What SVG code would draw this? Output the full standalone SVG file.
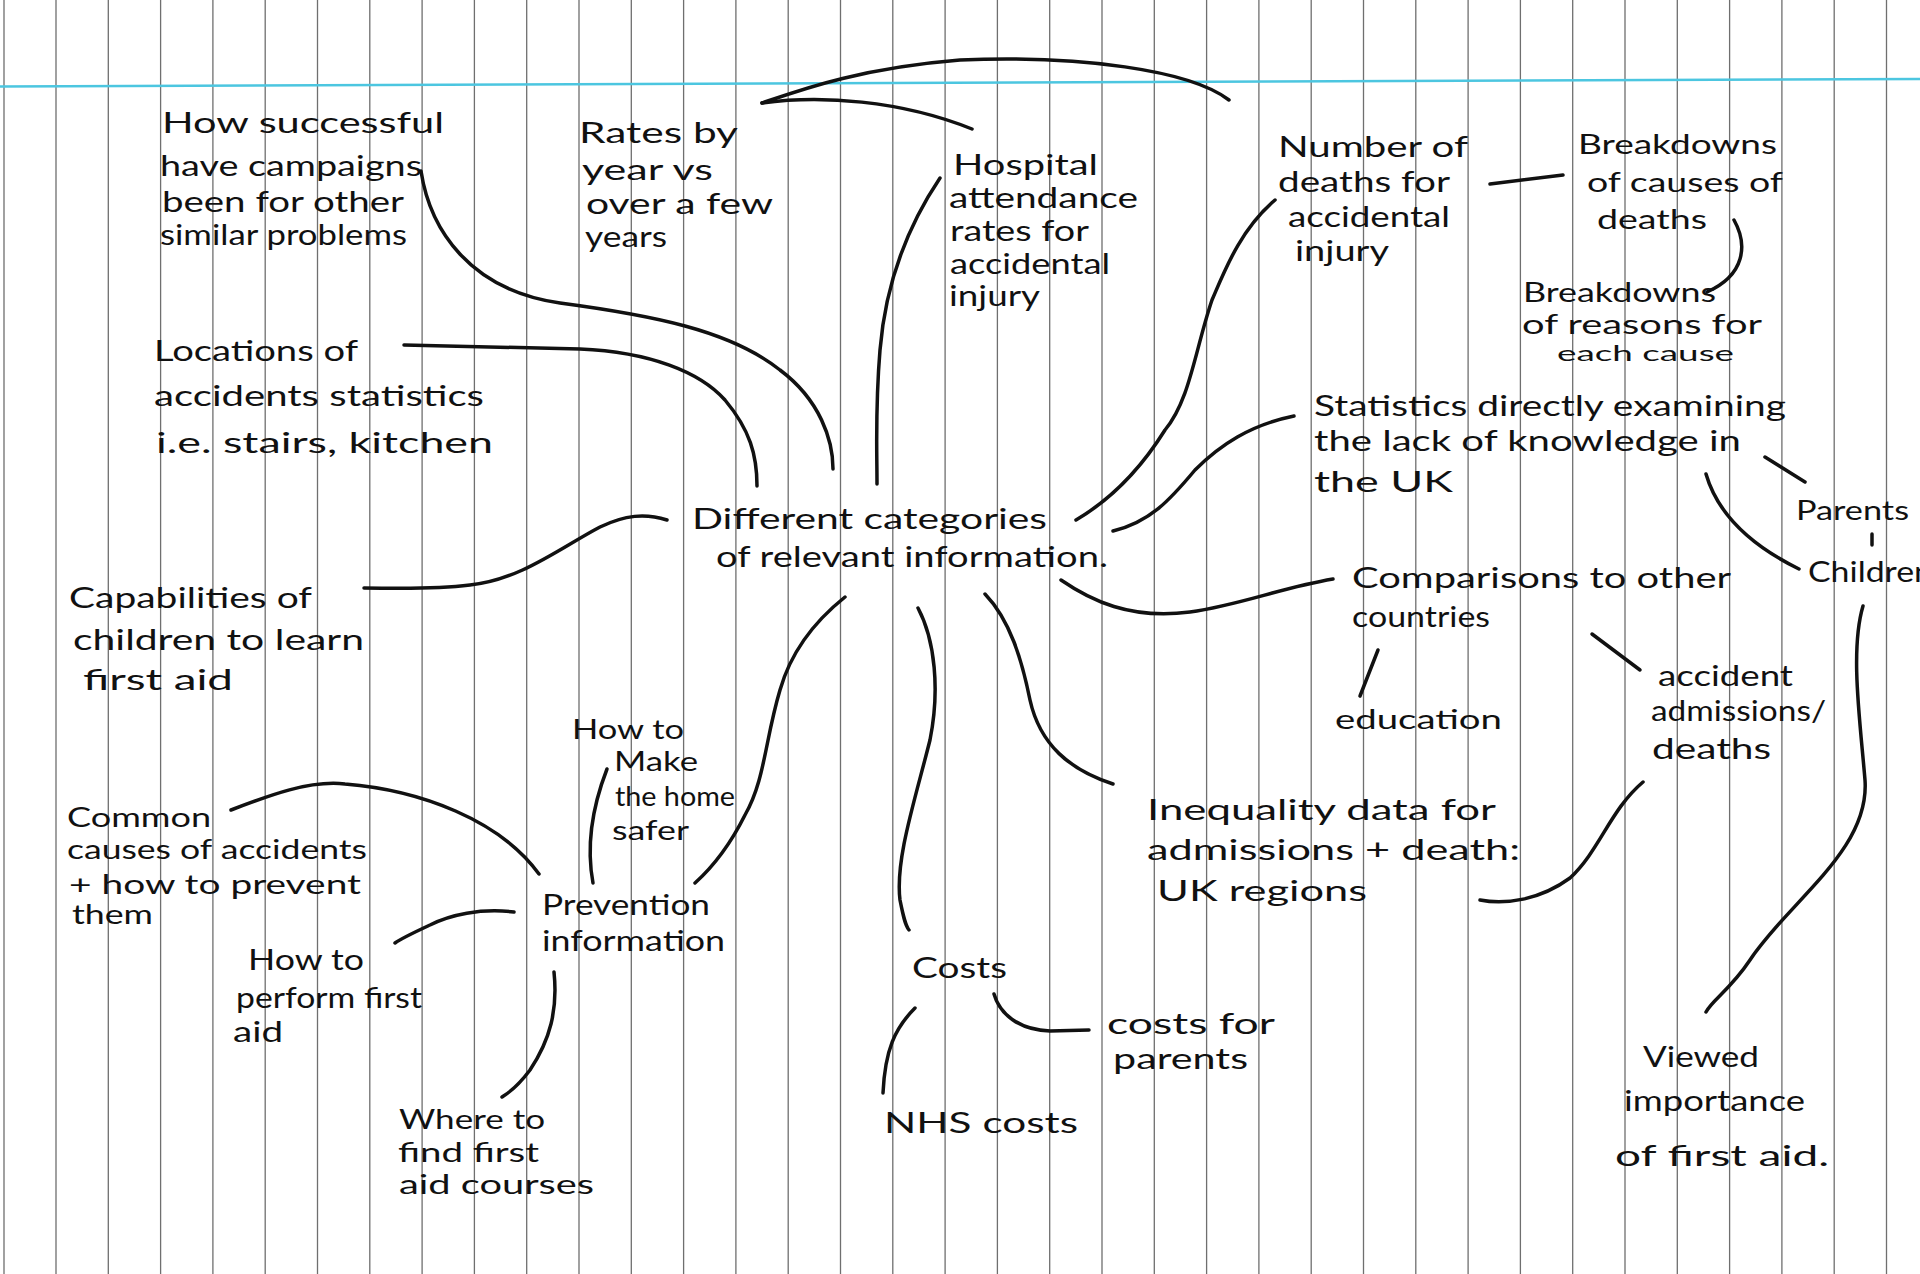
<svg xmlns="http://www.w3.org/2000/svg" width="1920" height="1274" viewBox="0 0 1920 1274">
<style>
.t{font-family:"Lato","Liberation Sans",sans-serif;font-size:29px;fill:#111}
.s{font-size:26px}
.c{fill:none;stroke:#111;stroke-width:3.5;stroke-linecap:round;stroke-linejoin:round}
.v{stroke:#6f6f6f;stroke-width:1.3}
</style>
<rect width="1920" height="1274" fill="#fff"/>
<g id="paper">
<path class="v" d="M4,0V1274M56,0V1274M108.3,0V1274M160.6,0V1274M212.9,0V1274M265.2,0V1274M317.5,0V1274M369.8,0V1274M422.1,0V1274M474.4,0V1274M526.7,0V1274M579,0V1274M631.3,0V1274M683.6,0V1274M735.9,0V1274M788.2,0V1274M840.5,0V1274M892.8,0V1274M945.1,0V1274M997.4,0V1274M1049.7,0V1274M1102,0V1274M1154.3,0V1274M1206.6,0V1274M1258.9,0V1274M1311.2,0V1274M1363.5,0V1274M1415.8,0V1274M1468.1,0V1274M1520.4,0V1274M1572.7,0V1274M1625,0V1274M1677.3,0V1274M1729.6,0V1274M1781.9,0V1274M1834.2,0V1274M1886.5,0V1274"/>
<path d="M0,86.5L1920,79" stroke="#4cc6e0" stroke-width="2.5" fill="none"/>
</g>
<g id="connectors">
<path class="c" d="M421,171 C430,230 470,290 560,303 C650,315 730,330 780,370 C820,400 833,440 833,469"/>
<path class="c" d="M404,345 L580,349 C650,352 700,372 725,400 C750,430 757,455 757,486"/>
<path class="c" d="M940,178 C905,230 885,290 880,350 C875,410 877,450 877,484"/>
<path class="c" d="M762,103 C800,90 860,68 960,60 C1080,55 1190,70 1229,100"/>
<path class="c" d="M762,103 C820,95 900,100 972,129"/>
<path class="c" d="M1275,200 C1240,230 1225,270 1212,300 C1195,350 1190,400 1165,430 C1140,470 1110,500 1076,520"/>
<path class="c" d="M1294,416 C1250,425 1220,445 1195,470 C1170,500 1150,522 1113,531"/>
<path class="c" d="M1490,184 L1563,175"/>
<path class="c" d="M1734,220 C1748,245 1745,275 1707,292"/>
<path class="c" d="M1333,579 C1280,588 1240,605 1190,612 C1130,620 1090,600 1061,580"/>
<path class="c" d="M1765,457 L1805,482"/>
<path class="c" d="M1706,474 C1715,505 1740,540 1799,569"/>
<path class="c" d="M1872,534 L1872,545"/>
<path class="c" d="M1863,606 C1850,650 1860,720 1865,780 C1870,850 1790,900 1750,960 C1730,990 1712,1000 1706,1012"/>
<path class="c" d="M1378,650 L1360,696"/>
<path class="c" d="M1592,634 L1640,670"/>
<path class="c" d="M1643,782 C1610,810 1600,850 1570,878 C1540,900 1505,905 1480,900"/>
<path class="c" d="M985,594 C1010,620 1022,660 1030,700 C1040,745 1070,770 1113,784"/>
<path class="c" d="M918,608 C935,640 940,690 930,740 C915,800 895,860 900,900 C903,915 905,925 909,930"/>
<path class="c" d="M915,1008 C895,1028 885,1050 883,1093"/>
<path class="c" d="M994,994 C1000,1015 1020,1030 1050,1031 L1089,1030"/>
<path class="c" d="M845,597 C810,625 790,655 780,690 C765,740 765,780 745,815 C730,845 715,865 695,883"/>
<path class="c" d="M667,520 C645,513 625,515 600,527 C560,548 520,580 470,585 C430,590 390,588 364,588"/>
<path class="c" d="M607,769 C595,800 585,840 593,883"/>
<path class="c" d="M231,810 C270,795 310,780 345,784 C420,790 500,820 539,874"/>
<path class="c" d="M514,912 C480,908 450,915 430,925 C415,932 402,938 395,943"/>
<path class="c" d="M554,972 C558,1010 550,1040 530,1070 C515,1090 505,1095 502,1097"/>
</g>
<g id="n-center">
<text class="t" x="692" y="529" textLength="355" lengthAdjust="spacingAndGlyphs">Different categories</text>
<text class="t" x="716" y="567" textLength="392" lengthAdjust="spacingAndGlyphs">of relevant information.</text>
</g>
<g id="n-success">
<text class="t" x="162" y="133" textLength="282" lengthAdjust="spacingAndGlyphs">How successful</text>
<text class="t" x="160" y="176" textLength="262" lengthAdjust="spacingAndGlyphs">have campaigns</text>
<text class="t" x="162" y="212" textLength="242" lengthAdjust="spacingAndGlyphs">been for other</text>
<text class="t" x="160" y="245" textLength="247" lengthAdjust="spacingAndGlyphs">similar problems</text>
</g>
<g id="n-rates">
<text class="t" x="579" y="143" textLength="159" lengthAdjust="spacingAndGlyphs">Rates by</text>
<text class="t" x="582" y="180" textLength="131" lengthAdjust="spacingAndGlyphs">year vs</text>
<text class="t" x="586" y="214" textLength="187" lengthAdjust="spacingAndGlyphs">over a few</text>
<text class="t" x="585" y="247" textLength="82" lengthAdjust="spacingAndGlyphs">years</text>
</g>
<g id="n-hospital">
<text class="t" x="953" y="175" textLength="145" lengthAdjust="spacingAndGlyphs">Hospital</text>
<text class="t" x="949" y="208" textLength="189" lengthAdjust="spacingAndGlyphs">attendance</text>
<text class="t" x="950" y="241" textLength="139" lengthAdjust="spacingAndGlyphs">rates for</text>
<text class="t" x="950" y="274" textLength="160" lengthAdjust="spacingAndGlyphs">accidental</text>
<text class="t" x="949" y="306" textLength="91" lengthAdjust="spacingAndGlyphs">injury</text>
</g>
<g id="n-deaths">
<text class="t" x="1278" y="157" textLength="190" lengthAdjust="spacingAndGlyphs">Number of</text>
<text class="t" x="1278" y="192" textLength="172" lengthAdjust="spacingAndGlyphs">deaths for</text>
<text class="t" x="1288" y="227" textLength="162" lengthAdjust="spacingAndGlyphs">accidental</text>
<text class="t" x="1295" y="261" textLength="94" lengthAdjust="spacingAndGlyphs">injury</text>
</g>
<g id="n-causes">
<text class="t s" x="1578" y="154" textLength="199" lengthAdjust="spacingAndGlyphs">Breakdowns</text>
<text class="t s" x="1587" y="192" textLength="196" lengthAdjust="spacingAndGlyphs">of causes of</text>
<text class="t s" x="1597" y="229" textLength="110" lengthAdjust="spacingAndGlyphs">deaths</text>
</g>
<g id="n-reasons">
<text class="t s" x="1523" y="302" textLength="193" lengthAdjust="spacingAndGlyphs">Breakdowns</text>
<text class="t s" x="1522" y="334" textLength="240" lengthAdjust="spacingAndGlyphs">of reasons for</text>
<text class="t" style="font-size:22px" x="1557" y="361" textLength="177" lengthAdjust="spacingAndGlyphs">each cause</text>
</g>
<g id="n-knowledge">
<text class="t" x="1314" y="416" textLength="472" lengthAdjust="spacingAndGlyphs">Statistics directly examining</text>
<text class="t" x="1314" y="451" textLength="427" lengthAdjust="spacingAndGlyphs">the lack of knowledge in</text>
<text class="t" x="1314" y="492" textLength="139" lengthAdjust="spacingAndGlyphs">the UK</text>
</g>
<g id="n-parents">
<text class="t s" x="1796" y="520" textLength="113" lengthAdjust="spacingAndGlyphs">Parents</text>
</g>
<g id="n-children">
<text class="t" x="1808" y="582" textLength="125" lengthAdjust="spacingAndGlyphs">Children</text>
</g>
<g id="n-comparisons">
<text class="t" x="1352" y="588" textLength="379" lengthAdjust="spacingAndGlyphs">Comparisons to other</text>
<text class="t" x="1352" y="627" textLength="138" lengthAdjust="spacingAndGlyphs">countries</text>
</g>
<g id="n-education">
<text class="t s" x="1335" y="729" textLength="167" lengthAdjust="spacingAndGlyphs">education</text>
</g>
<g id="n-admissions">
<text class="t" x="1658" y="686" textLength="135" lengthAdjust="spacingAndGlyphs">accident</text>
<text class="t" x="1651" y="721" textLength="175" lengthAdjust="spacingAndGlyphs">admissions/</text>
<text class="t" x="1652" y="759" textLength="119" lengthAdjust="spacingAndGlyphs">deaths</text>
</g>
<g id="n-inequality">
<text class="t" x="1147" y="820" textLength="349" lengthAdjust="spacingAndGlyphs">Inequality data for</text>
<text class="t" x="1147" y="860" textLength="373" lengthAdjust="spacingAndGlyphs">admissions + death:</text>
<text class="t" x="1157" y="901" textLength="210" lengthAdjust="spacingAndGlyphs">UK regions</text>
</g>
<g id="n-viewed">
<text class="t" x="1643" y="1067" textLength="116" lengthAdjust="spacingAndGlyphs">Viewed</text>
<text class="t" x="1624" y="1111" textLength="181" lengthAdjust="spacingAndGlyphs">importance</text>
<text class="t" x="1615" y="1166" textLength="214" lengthAdjust="spacingAndGlyphs">of first aid.</text>
</g>
<g id="n-locations">
<text class="t" x="154" y="361" textLength="204" lengthAdjust="spacingAndGlyphs">Locations of</text>
<text class="t" x="154" y="406" textLength="330" lengthAdjust="spacingAndGlyphs">accidents statistics</text>
<text class="t" x="156" y="453" textLength="337" lengthAdjust="spacingAndGlyphs">i.e. stairs, kitchen</text>
</g>
<g id="n-capabilities">
<text class="t" x="69" y="608" textLength="243" lengthAdjust="spacingAndGlyphs">Capabilities of</text>
<text class="t" x="73" y="650" textLength="291" lengthAdjust="spacingAndGlyphs">children to learn</text>
<text class="t" x="83" y="690" textLength="150" lengthAdjust="spacingAndGlyphs">first aid</text>
</g>
<g id="n-safer">
<text class="t s" x="572" y="739" textLength="112" lengthAdjust="spacingAndGlyphs">How to</text>
<text class="t s" x="614" y="771" textLength="84" lengthAdjust="spacingAndGlyphs">Make</text>
<text class="t s" x="615" y="806" textLength="120" lengthAdjust="spacingAndGlyphs">the home</text>
<text class="t s" x="612" y="840" textLength="77" lengthAdjust="spacingAndGlyphs">safer</text>
</g>
<g id="n-common">
<text class="t s" x="67" y="827" textLength="144" lengthAdjust="spacingAndGlyphs">Common</text>
<text class="t s" x="67" y="859" textLength="300" lengthAdjust="spacingAndGlyphs">causes of accidents</text>
<text class="t s" x="69" y="894" textLength="292" lengthAdjust="spacingAndGlyphs">+ how to prevent</text>
<text class="t s" x="72" y="924" textLength="81" lengthAdjust="spacingAndGlyphs">them</text>
</g>
<g id="n-prevention">
<text class="t" x="542" y="915" textLength="168" lengthAdjust="spacingAndGlyphs">Prevention</text>
<text class="t" x="542" y="951" textLength="183" lengthAdjust="spacingAndGlyphs">information</text>
</g>
<g id="n-firstaid">
<text class="t" x="248" y="970" textLength="116" lengthAdjust="spacingAndGlyphs">How to</text>
<text class="t" x="236" y="1008" textLength="186" lengthAdjust="spacingAndGlyphs">perform first</text>
<text class="t" x="233" y="1042" textLength="50" lengthAdjust="spacingAndGlyphs">aid</text>
</g>
<g id="n-courses">
<text class="t s" x="399" y="1129" textLength="146" lengthAdjust="spacingAndGlyphs">Where to</text>
<text class="t s" x="398" y="1162" textLength="141" lengthAdjust="spacingAndGlyphs">find first</text>
<text class="t s" x="399" y="1194" textLength="195" lengthAdjust="spacingAndGlyphs">aid courses</text>
</g>
<g id="n-costs">
<text class="t" x="912" y="978" textLength="95" lengthAdjust="spacingAndGlyphs">Costs</text>
</g>
<g id="n-nhs">
<text class="t" x="884" y="1133" textLength="194" lengthAdjust="spacingAndGlyphs">NHS costs</text>
</g>
<g id="n-parentcosts">
<text class="t" x="1107" y="1034" textLength="168" lengthAdjust="spacingAndGlyphs">costs for</text>
<text class="t" x="1113" y="1069" textLength="135" lengthAdjust="spacingAndGlyphs">parents</text>
</g>
</svg>
